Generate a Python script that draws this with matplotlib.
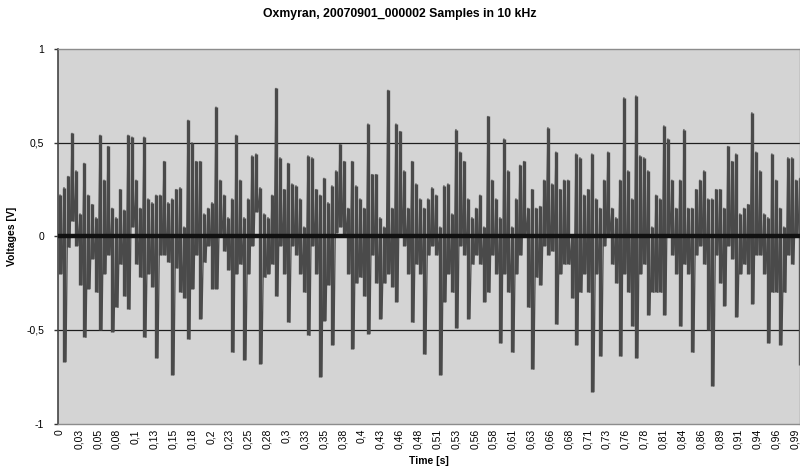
import matplotlib
matplotlib.use("Agg")
import matplotlib.pyplot as plt
import numpy as np

plt.rcParams['font.family'] = ['Liberation Sans', 'DejaVu Sans']

# upper / lower edge of the trace, read every ~5.4 ms (volts)
top = [0.22, 0.26, 0.32, 0.55, 0.35, 0.12, 0.39, 0.22, 0.17, 0.10, 0.54, 0.30, 0.48, 0.15, 0.10, 0.25, 0.14,
       0.54, 0.53, 0.30, 0.15, 0.53, 0.20, 0.18, 0.22, 0.22, 0.40, 0.18, 0.20, 0.25, 0.26, 0.05, 0.62,
       0.50, 0.40, 0.40, 0.12, 0.15, 0.18, 0.69, 0.30, 0.22, 0.10, 0.20, 0.54, 0.30, 0.10, 0.20, 0.43, 0.44,
       0.26, 0.12, 0.10, 0.22, 0.79, 0.42, 0.25, 0.39, 0.28, 0.27, 0.20, 0.05, 0.43, 0.42, 0.25, 0.22,
       0.31, 0.18, 0.27, 0.35, 0.49, 0.40, 0.15, 0.40, 0.27, 0.20, 0.15, 0.60, 0.33, 0.33, 0.10, 0.05, 0.78,
       0.15, 0.60, 0.56, 0.35, 0.15, 0.40, 0.28, 0.20, 0.15, 0.20, 0.26, 0.22, 0.05, 0.27, 0.28, 0.12,
       0.57, 0.45, 0.40, 0.20, 0.10, 0.15, 0.22, 0.05, 0.64, 0.30, 0.20, 0.10, 0.52, 0.35, 0.05, 0.20, 0.38,
       0.40, 0.15, 0.25, 0.15, 0.16, 0.30, 0.58, 0.28, 0.45, 0.25, 0.30, 0.30, 0.00, 0.44, 0.42, 0.22,
       0.25, 0.44, 0.20, 0.15, 0.30, 0.45, 0.15, 0.10, 0.30, 0.74, 0.35, 0.20, 0.75, 0.43, 0.42, 0.35, 0.05,
       0.22, 0.20, 0.59, 0.52, 0.30, 0.15, 0.30, 0.57, 0.15, 0.15, 0.25, 0.30, 0.35, 0.20, 0.20, 0.25,
       0.25, 0.15, 0.48, 0.40, 0.44, 0.12, 0.15, 0.17, 0.66, 0.45, 0.35, 0.12, 0.10, 0.44, 0.30, 0.15, 0.05,
       0.42, 0.42, 0.30, 0.31]
bottom = [-0.20, -0.67, -0.06, 0.08, -0.05, -0.26, -0.54, -0.28, -0.12, -0.30, -0.50, -0.20, -0.10, -0.51, -0.38, -0.15, -0.32,
          -0.39, 0.05, -0.15, -0.22, -0.54, -0.20, -0.27, -0.65, -0.10, -0.10, -0.14, -0.74, -0.17, -0.30, -0.33, -0.55,
          -0.28, -0.10, -0.44, -0.14, -0.05, -0.28, -0.28, 0.00, -0.08, -0.18, -0.62, -0.20, -0.15, -0.66, -0.20, -0.05, 0.13,
          -0.68, -0.22, -0.20, -0.15, -0.32, -0.05, -0.20, -0.46, -0.05, -0.10, -0.20, -0.30, -0.53, -0.05, -0.20, -0.75,
          -0.45, -0.26, -0.58, 0.02, 0.05, 0.00, -0.20, -0.60, -0.25, -0.22, -0.32, -0.52, -0.10, -0.25, -0.44, -0.25, -0.20,
          -0.27, -0.35, 0.00, -0.05, -0.20, -0.46, -0.15, -0.20, -0.63, -0.10, -0.05, -0.10, -0.74, -0.35, -0.20, -0.30,
          -0.49, -0.05, -0.10, -0.44, -0.15, -0.10, -0.15, -0.35, -0.30, -0.10, -0.20, -0.57, -0.20, -0.30, -0.62, -0.20, -0.10,
          0.00, -0.38, -0.71, -0.22, -0.26, -0.05, -0.10, -0.08, -0.47, -0.20, -0.15, -0.15, -0.33, -0.58, -0.30, -0.20,
          -0.30, -0.83, -0.20, -0.64, -0.05, 0.00, -0.15, -0.25, -0.64, -0.20, -0.30, -0.48, -0.65, -0.20, -0.15, -0.42, -0.30,
          -0.30, -0.30, -0.42, 0.00, -0.10, -0.20, -0.48, -0.15, -0.20, -0.62, -0.10, -0.05, -0.15, -0.50, -0.80, -0.10,
          -0.25, -0.37, -0.05, -0.12, -0.43, -0.20, -0.15, -0.20, -0.36, -0.10, -0.10, -0.20, -0.57, -0.30, -0.30, -0.58, -0.30,
          -0.10, -0.15, 0.00, -0.69]

dt = 0.00539  # spacing of the readings [s]
tick_step = 0.0254  # one category label every 254 samples
tick_labels = ['0', '0,03', '0,05', '0,08', '0,1', '0,13', '0,15', '0,18', '0,2', '0,23',
               '0,25', '0,28', '0,3', '0,33', '0,35', '0,38', '0,4', '0,43', '0,46', '0,48',
               '0,51', '0,53', '0,56', '0,58', '0,61', '0,63', '0,66', '0,68', '0,71', '0,73',
               '0,76', '0,78', '0,81', '0,84', '0,86', '0,89', '0,91', '0,94', '0,96', '0,99']
y_ticks = [-1, -0.5, 0, 0.5, 1]
y_labels = ['-1', '-0,5', '0', '0,5', '1']

t = np.arange(len(top)) * dt
xs = np.column_stack([t, t + dt / 2]).ravel()
ys = np.column_stack([top, bottom]).ravel()

fig = plt.figure(figsize=(8, 4.73), dpi=100)
ax = fig.add_axes([58 / 800, 1 - 423.5 / 473, 742 / 800, 374.5 / 473])
ax.set_facecolor('#d4d4d4')

for g in [0.5, -0.5]:
    ax.axhline(g, color='#1e1e1e', lw=0.9, zorder=1)
# each reading as a filled stroke from its low to its high, joined by the trace
ax.vlines(t, bottom, top, color='#4a4a4a', lw=2.4, zorder=2)
ax.plot(xs, ys, color='#4a4a4a', lw=0.9, zorder=2)
ax.axhline(0, color='#111111', lw=3.2, zorder=3)

ax.set_xlim(-0.0027, 0.9973)
ax.set_ylim(-1, 1)

ax.set_xticks([i * tick_step for i in range(len(tick_labels))])
ax.set_xticklabels(tick_labels, rotation=90, fontsize=7.5)
ax.set_yticks(y_ticks)
ax.set_yticklabels(y_labels, fontsize=7.5)
ax.tick_params(axis='x', length=0, pad=4)
ax.tick_params(axis='y', length=3, width=1, color='#333333', pad=7)

for s in ['top', 'right', 'bottom']:
    ax.spines[s].set_color('#8c8c8c')
    ax.spines[s].set_linewidth(1)
ax.spines['left'].set_color('#444444')
ax.spines['left'].set_linewidth(1.2)

fig.text(0.5, 1 - 14 / 473, 'Oxmyran, 20070901_000002 Samples in 10 kHz',
         ha='center', va='center', fontsize=8.8, fontweight='bold')
ax.set_xlabel('Time [s]', fontsize=7.5, fontweight='bold', labelpad=5)
ax.set_ylabel('Voltages [V]', fontsize=7.5, fontweight='bold', labelpad=7)

fig.savefig('out.png', dpi=100)
